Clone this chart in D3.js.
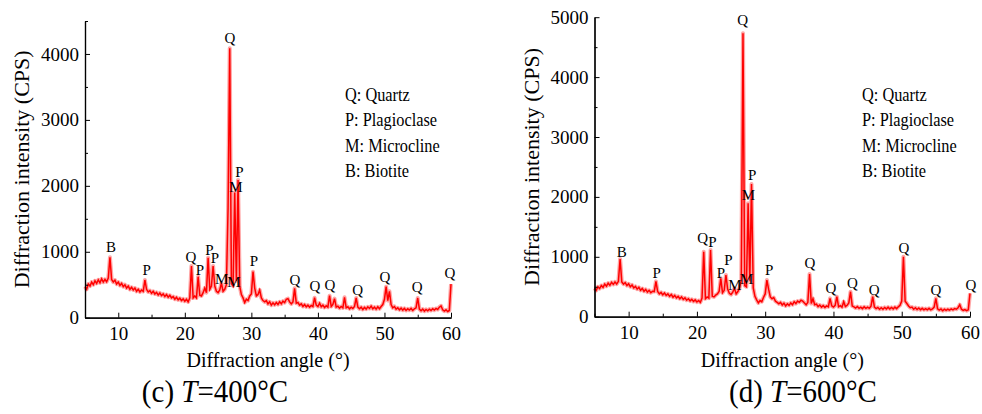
<!DOCTYPE html>
<html>
<head>
<meta charset="utf-8">
<script src="https://cdn.jsdelivr.net/npm/d3@7"></script>
<style>
  html, body { margin: 0; padding: 0; background: #fff; }
  svg { display: block; }
  svg text { font-family: "Liberation Serif", "Times New Roman", serif; }
</style>
</head>
<body>
<svg id="fig" width="982" height="414" font-family="Liberation Serif"></svg>
<script>
// Scan settings shared by both patterns (2θ from 5° to 60° in 0.25° steps)
const scanStart = 5;
const scanStep = 0.25;

// ---- Panel (c): T = 400 °C, intensity (CPS) per scan step ----
const cpsC = [
  470, 430, 510, 480, 540, 500, 560, 520, 575, 530, 590, 540, 580, 545, 600, 916,
  580, 540, 570, 510, 540, 490, 520, 470, 500, 450, 480, 430, 460, 420, 450, 400,
  430, 390, 420, 400, 572, 430, 390, 410, 370, 400, 360, 385, 345, 375, 335, 360,
  320, 350, 310, 340, 300, 320, 280, 310, 270, 295, 260, 285, 250, 280, 240, 300,
  785, 300, 330, 300, 622, 340, 330, 380, 450, 380, 910, 430, 480, 785, 480, 400,
  380, 420, 525, 400, 430, 500, 1665, 4088, 520, 480, 1900, 560, 2090, 480, 350, 300,
  230, 280, 260, 330, 360, 698, 450, 330, 350, 420, 300, 260, 240, 260, 210, 240,
  190, 225, 195, 230, 200, 240, 210, 250, 230, 280, 290, 240, 210, 240, 446, 220,
  230, 190, 210, 170, 200, 165, 190, 160, 185, 170, 303, 190, 170, 220, 165, 190,
  155, 180, 160, 334, 170, 200, 290, 160, 175, 145, 170, 150, 310, 150, 165, 135,
  160, 140, 170, 299, 160, 135, 160, 125, 155, 130, 165, 140, 175, 135, 160, 130,
  165, 135, 170, 200, 280, 470, 260, 400, 200, 150, 170, 130, 150, 120, 145, 115,
  140, 110, 135, 115, 140, 110, 135, 150, 299, 130, 105, 130, 100, 125, 105, 130,
  110, 135, 115, 140, 125, 160, 180, 120, 100, 120, 95, 110, 511
];
const labelTextC  = ["B", "P", "Q", "P", "P", "P", "M", "M", "Q", "M", "P", "P", "Q", "Q", "Q", "Q", "Q", "Q", "Q"];
const labelAngleC = [8.91, 14.27, 20.93, 22.28, 23.68, 24.53, 25.54, 27.39, 26.79, 27.69, 28.19, 30.39, 36.56, 39.56, 41.81, 45.98, 50.08, 54.93, 59.85];
const labelLevelC = [1002, 648, 850, 648, 951, 825, 511, 470, 4164, 1912, 2130, 785, 496, 410, 420, 344, 546, 395, 598];

// ---- Panel (d): T = 600 °C, intensity (CPS) per scan step ----
const cpsD = [
  474, 440, 500, 470, 520, 490, 545, 510, 560, 525, 575, 540, 580, 545, 590, 963,
  580, 545, 570, 520, 550, 500, 530, 480, 505, 460, 490, 440, 470, 425, 455, 410,
  440, 400, 425, 420, 590, 420, 380, 405, 365, 395, 355, 380, 340, 370, 325, 355,
  315, 340, 300, 330, 290, 315, 275, 300, 265, 290, 255, 280, 245, 270, 240, 310,
  1085, 300, 330, 310, 1113, 340, 330, 360, 380, 420, 641, 400, 440, 696, 460, 390,
  370, 410, 474, 380, 420, 480, 612, 4731, 520, 500, 1893, 600, 2215, 480, 340, 280,
  230, 270, 250, 320, 380, 612, 460, 330, 300, 320, 260, 240, 215, 240, 195, 225,
  180, 215, 190, 230, 200, 250, 220, 260, 240, 275, 260, 230, 200, 240, 713, 220,
  300, 200, 210, 170, 195, 160, 185, 155, 180, 165, 306, 180, 160, 190, 334, 165,
  185, 160, 250, 170, 190, 230, 417, 180, 165, 145, 170, 140, 160, 135, 165, 140,
  160, 140, 175, 334, 160, 135, 155, 125, 150, 125, 155, 130, 160, 130, 155, 130,
  160, 135, 165, 190, 260, 1002, 260, 220, 180, 150, 160, 125, 150, 120, 145, 115,
  140, 115, 135, 115, 140, 115, 130, 160, 306, 130, 110, 130, 100, 125, 105, 125,
  110, 130, 115, 135, 125, 150, 200, 125, 105, 120, 100, 115, 390
];
const labelTextD  = ["B", "P", "Q", "P", "P", "P", "M", "M", "Q", "M", "P", "P", "Q", "Q", "Q", "Q", "Q", "Q", "Q"];
const labelAngleD = [8.98, 14.11, 20.85, 22.26, 23.53, 24.60, 25.58, 27.29, 26.71, 27.53, 28.11, 30.60, 36.57, 39.64, 42.76, 45.98, 50.33, 55.02, 60.15];
const labelLevelD = [1002, 641, 1225, 1159, 641, 863, 446, 546, 4870, 1948, 2282, 696, 808, 401, 474, 362, 1068, 362, 446];

// ---- Shared axis content ----
const angleTicks = [10, 20, 30, 40, 50, 60];
const angleMinorTicks = [5, 15, 25, 35, 45, 55];
const cpsTicksC = [0, 1000, 2000, 3000, 4000];
const cpsMinorC = [500, 1500, 2500, 3500, 4500];
const cpsTicksD = [0, 1000, 2000, 3000, 4000, 5000];
const cpsMinorD = [500, 1500, 2500, 3500, 4500];
const legendItems = ["Q: Quartz", "P: Plagioclase", "M: Microcline", "B: Biotite"];
const xTitle = "Diffraction angle (°)";
const yTitle = "Diffraction intensity (CPS)";

const FONT = "Liberation Serif";
const svg = d3.select("#fig");

function panel(cfg) {
  const g = svg.append("g").attr("font-family", FONT);
  const x = d3.scaleLinear().domain([5, 60]).range(cfg.xRange);
  const y = d3.scaleLinear().domain([0, cfg.yMax]).range(cfg.yRange);

  const pts = cfg.cps.map((v, i) => [scanStart + i * scanStep, v]);
  const line = d3.line().x(d => x(d[0])).y(d => y(d[1]));

  // soft halo under the trace (counting noise), then the trace itself
  g.append("path").datum(pts).attr("d", line)
    .attr("fill", "none").attr("stroke", "#ff2020").attr("stroke-opacity", 0.4)
    .attr("stroke-width", 4).attr("stroke-linejoin", "round");
  g.append("path").datum(pts).attr("d", line)
    .attr("fill", "none").attr("stroke", "#ff0000")
    .attr("stroke-width", 1.5).attr("stroke-linejoin", "miter");

  // axes with inward ticks
  const xAxis = d3.axisBottom(x).tickValues(angleTicks).tickSize(-5).tickSizeOuter(0).tickPadding(9);
  const xMinor = d3.axisBottom(x).tickValues(angleMinorTicks).tickSize(-3).tickSizeOuter(0).tickFormat("");
  const yAxis = d3.axisLeft(y).tickValues(cfg.yTicks).tickSize(-5).tickSizeOuter(0).tickPadding(6)
    .tickFormat(d3.format("d"));
  const yMinor = d3.axisLeft(y).tickValues(cfg.yMinor).tickSize(-3).tickSizeOuter(0).tickFormat("");

  const gx = g.append("g").attr("transform", `translate(0,${cfg.yRange[0]})`).call(xAxis);
  g.append("g").attr("transform", `translate(0,${cfg.yRange[0]})`).call(xMinor);
  const gy = g.append("g").attr("transform", `translate(${cfg.xRange[0]},0)`).call(yAxis);
  g.append("g").attr("transform", `translate(${cfg.xRange[0]},0)`).call(yMinor);

  g.selectAll("g").attr("font-family", FONT);
  g.selectAll(".domain").attr("stroke", "#000").attr("stroke-width", 1.2);
  g.selectAll(".tick line").attr("stroke", "#000").attr("stroke-width", 1);
  gx.selectAll(".tick text").attr("font-family", FONT).attr("font-size", 19).attr("fill", "#000")
    .attr("dy", "0.71em");
  gy.selectAll(".tick text").attr("font-family", FONT).attr("font-size", 19).attr("fill", "#000");

  // phase labels on the peaks
  g.selectAll("text.peak").data(cfg.labels).enter().append("text")
    .attr("class", "peak")
    .attr("x", d => x(d.a)).attr("y", d => y(d.v))
    .attr("text-anchor", "middle").attr("font-family", FONT).attr("font-size", 15).attr("fill", "#000")
    .text(d => d.t);

  // phase key
  legendItems.forEach((t, i) => {
    g.append("text")
      .attr("transform", `translate(${cfg.legendX},${101 + i * 25.4}) scale(0.86,1)`)
      .attr("font-family", FONT).attr("font-size", 19).attr("fill", "#000").text(t);
  });

  // axis titles
  const xMid = (cfg.xRange[0] + cfg.xRange[1]) / 2;
  g.append("text").attr("x", xMid).attr("y", 367).attr("text-anchor", "middle")
    .attr("font-family", FONT).attr("font-size", 20).attr("fill", "#000").text(xTitle);
  const yMid = (cfg.yRange[0] + cfg.yRange[1]) / 2;
  g.append("text").attr("transform", `translate(${cfg.xRange[0] - 56},${yMid}) rotate(-90)`)
    .attr("text-anchor", "middle").attr("font-family", FONT).attr("font-size", 22).attr("fill", "#000")
    .text(yTitle);

  // panel caption
  const cap = g.append("text")
    .attr("transform", `translate(${cfg.capX},402) scale(1,1.12)`)
    .attr("text-anchor", "middle").attr("font-family", FONT).attr("font-size", 29).attr("fill", "#000");
  cap.append("tspan").text(cfg.capLetter + " ");
  cap.append("tspan").attr("font-style", "italic").text("T");
  cap.append("tspan").text("=" + cfg.capTemp + "°C");
}

function zipLabels(t, a, v) { return t.map((s, i) => ({ t: s, a: a[i], v: v[i] })); }

panel({
  xRange: [85, 451], yRange: [317.7, 21], yMax: 4500,
  yTicks: cpsTicksC, yMinor: cpsMinorC, cps: cpsC,
  labels: zipLabels(labelTextC, labelAngleC, labelLevelC),
  legendX: 345, capX: 215, capLetter: "(c)", capTemp: "400"
});
panel({
  xRange: [594.5, 970], yRange: [316.7, 17.2], yMax: 5000,
  yTicks: cpsTicksD, yMinor: cpsMinorD, cps: cpsD,
  labels: zipLabels(labelTextD, labelAngleD, labelLevelD),
  legendX: 862, capX: 803, capLetter: "(d)", capTemp: "600"
});
</script>
</body>
</html>
